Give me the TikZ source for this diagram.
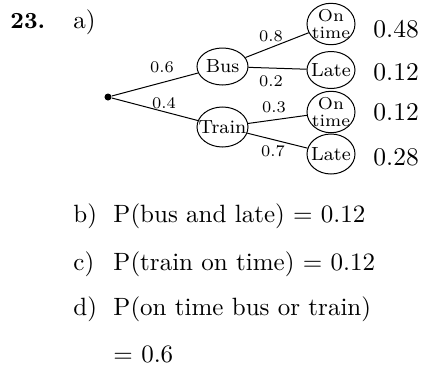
\documentclass[tikz,border=0pt]{standalone}
\usetikzlibrary{shapes.geometric}

% text that may run to the edge of its ellipse
\newcommand{\snug}[1]{\makebox[0pt]{#1}}

\tikzset{
  event/.style={draw, ellipse, inner sep=0pt, minimum width=20.4pt, minimum height=14.8pt, font=\fontsize{7.6}{8}\selectfont},
  outcome/.style={event, minimum width=19.2pt, align=center},
  twoline/.style={font=\fontsize{6.9}{6.8}\selectfont},
  branchprob/.style={font=\fontsize{6.5}{7}\selectfont, inner sep=0pt},
  result/.style={font=\fontsize{10.2}{12}\selectfont, anchor=base west, inner sep=0pt},
  answer/.style={font=\fontsize{10}{12}\selectfont, anchor=base west, inner sep=0pt},
  rootdot/.style={circle, fill, inner sep=0pt, minimum size=2.8pt},
}

\begin{document}
\begin{tikzpicture}[x=0.4pt, y=-0.4pt, line width=0.4pt]
  \useasboundingbox (0,0) rectangle (422,367);

  \node[answer, font=\fontsize{9.2}{12}\selectfont\bfseries] (num) at (10,28) {23.};
  \node[answer] (parta) at (73,28) {a)};

  % tree
  \node[rootdot] (root) at (108,97) {};
  \node[event] (bus) at (222.5,66.5) {\snug{Bus}};
  \node[event, minimum height=16pt] (train) at (222.5,127) {\snug{Train}};
  \node[outcome, twoline] (bon) at (331,24) {\snug{On}\\\snug{time}};
  \node[outcome, minimum height=14.8pt] (blate) at (331,70) {\snug{Late}};
  \node[outcome, twoline] (ton) at (331,112) {\snug{On}\\\snug{time}};
  \node[outcome, minimum height=16pt] (tlate) at (331,154) {\snug{Late}};

  \draw (root) -- (bus);
  \draw (root) -- (train);
  \draw (bus) -- (bon);
  \draw (bus) -- (blate);
  \draw (train) -- (ton);
  \draw (train) -- (tlate);

  \node[branchprob] (p6) at (162,67) {0.6};
  \node[branchprob] (p4) at (164,103) {0.4};
  \node[branchprob] (p8) at (271,36) {0.8};
  \node[branchprob] (p2) at (271,81) {0.2};
  \node[branchprob] (p3) at (274,107) {0.3};
  \node[branchprob] (p7) at (273,151) {0.7};

  \node[result] (r1) at (373,37) {0.48};
  \node[result] (r2) at (373,80) {0.12};
  \node[result] (r3) at (373,120) {0.12};
  \node[result] (r4) at (373,165) {0.28};

  % answers
  \node[answer] (partb) at (73,222) {b)};
  \node[answer] (ansb) at (113,222) {P(bus and late) = 0.12};
  \node[answer] (partc) at (73,270) {c)};
  \node[answer] (ansc) at (113,270) {P(train on time) = 0.12};
  \node[answer] (partd) at (73,315) {d)};
  \node[answer] (ansd) at (113,315) {P(on time bus or train)};
  \node[answer] (ansd2) at (113,362) {= 0.6};
\end{tikzpicture}
\end{document}
